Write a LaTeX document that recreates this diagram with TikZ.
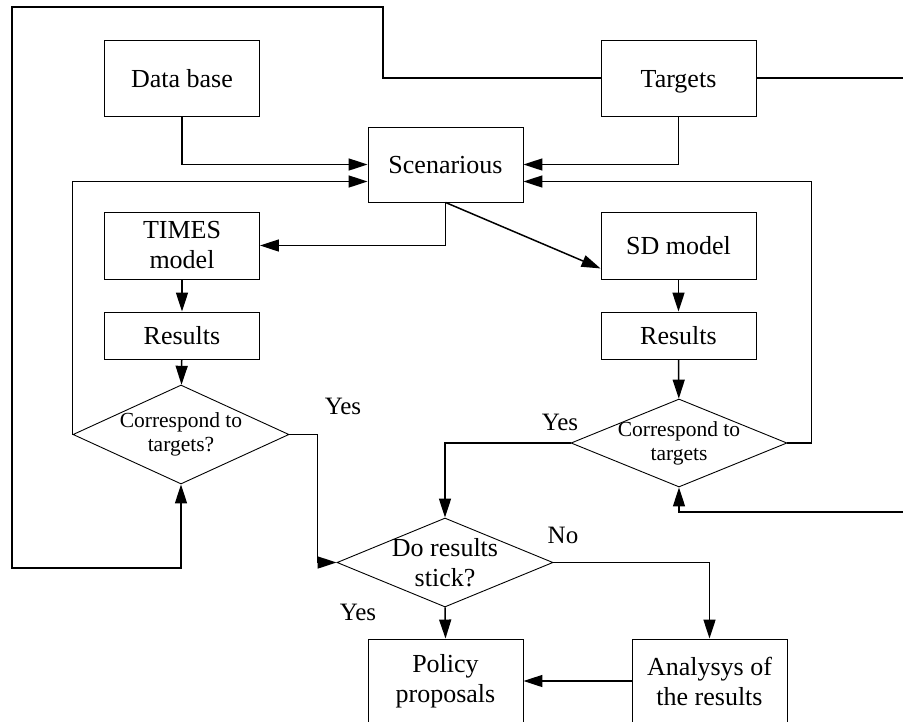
\documentclass[tikz,border=0pt]{standalone}
\usepackage{fontspec}
\setmainfont{Liberation Serif}
\usetikzlibrary{shapes.geometric,arrows.meta}
\begin{document}
\begin{tikzpicture}[x=1pt,y=-1pt,
    box/.style={draw,line width=0.9pt,minimum width=155pt,minimum height=#1,inner sep=0pt,align=center,font=\fontsize{26}{30}\selectfont},
    box/.default=76pt,
    one/.style={text height=18pt,text depth=0pt},
    decide/.style={draw,diamond,shape aspect=2.2,line width=0.9pt,minimum width=216pt,minimum height=#1,inner xsep=-30pt,inner ysep=-15pt,align=center,font=\fontsize{26}{30}\selectfont},
    small/.style={font=\fontsize{21.5}{24}\selectfont},
    answer/.style={inner sep=0pt,font=\fontsize{25}{30}\selectfont},
    link/.style={line width=1.5pt,-{Triangle[length=19pt,width=12pt]}}]
      \path[use as bounding box,clip] (0,0) rectangle (903,721);
      \node[box,one] (base) at (182,78) {Data base};
      \node[box,one] (targ) at (678.5,78) {Targets};
      \node[box=75pt,one] (scen) at (445.5,164.5) {Scenarious};
      \node[box=67pt] (times) at (182,245.5) {TIMES\\model};
      \node[box=67pt,one] (sd) at (678.5,245.5) {SD model};
      \node[box=47pt,one] (resL) at (182,335.5) {Results};
      \node[box=47pt,one] (resR) at (678.5,335.5) {Results};
      \node[decide=99pt,small] (corL) at (181,434.5) {Correspond to\\targets?};
      \node[decide=88pt,small] (corR) at (679,443) {Correspond to\\targets};
      \node[decide=89pt] (stick) at (445,562.5) {Do results\\stick?};
      \node[box=84pt] (pol) at (445.5,681) {Policy\\proposals};
      \node[box=84pt] (ana) at (709.5,681) {Analysys of\\the results};
      \node[answer] (yesL) at (343,406) {Yes};
      \node[answer] (yesR) at (560,422) {Yes};
      \node[answer] (no) at (563,535) {No};
      \node[answer] (yesB) at (358,612) {Yes};
      \draw[link] (base.south) |- (scen.west);
      \draw[link] (targ.south) |- (scen.east);
      \draw[link] (corL.west) |- ([yshift=-17pt]scen.west);
      \draw[link] (corR.east) -- ++(24,0) |- ([yshift=-17pt]scen.east);
      \draw[link] (scen.south) |- (times.east);
      \draw[link] (scen.south) -- ([yshift=11pt]sd.south west);
      \draw[link] (times) -- (resL);
      \draw[link] (resL) -- (corL);
      \draw[link] (sd) -- (resR);
      \draw[link] (resR) -- (corR);
      \draw[link] (corL.east) -- ++(28,0) |- (stick.west);
      \draw[link] (corR.west) -| (stick.north);
      \draw[link] (stick.south) -- (pol.north);
      \draw[link] (stick.east) -| (ana.north);
      \draw[link] (ana.west) -- (pol.east);
      \draw[link] (targ.west) -| (383,7) -| (12,568) -| (corL.south);
      \draw[link] (targ.east) -| (915,512) -| (corR.south);
\end{tikzpicture}
\end{document}
